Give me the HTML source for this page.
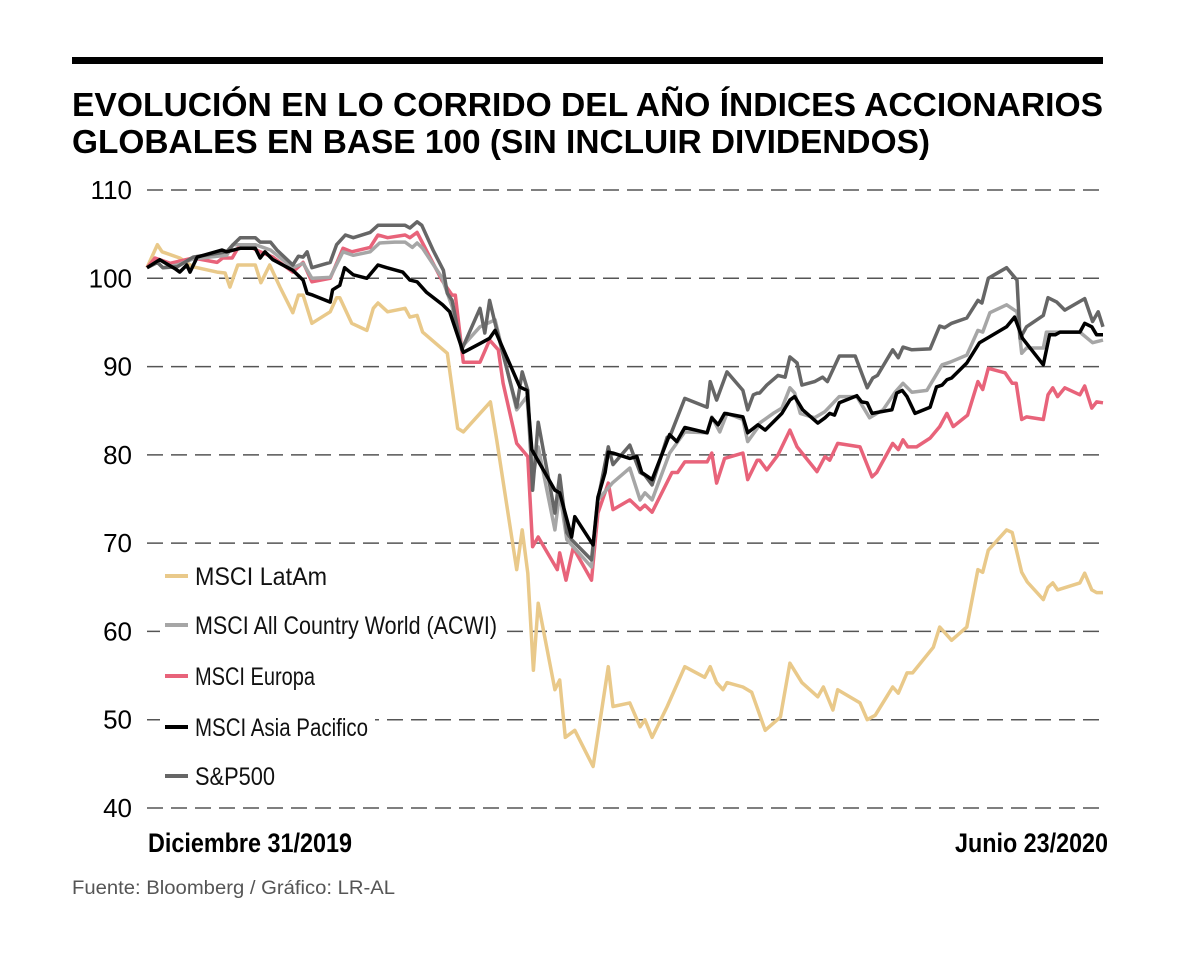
<!DOCTYPE html>
<html><head><meta charset="utf-8"><style>
html,body{margin:0;padding:0;background:#fff;}
svg{display:block;}
</style></head><body>
<svg id="chart" width="1200" height="958" viewBox="0 0 1200 958" xmlns="http://www.w3.org/2000/svg" font-family="'Liberation Sans', sans-serif">
<rect x="0" y="0" width="1200" height="958" fill="#fff"/>
<rect x="72" y="57" width="1031" height="7" fill="#000"/>
<text x="72" y="116" font-size="33" font-weight="bold" textLength="1031" lengthAdjust="spacingAndGlyphs">EVOLUCIÓN EN LO CORRIDO DEL AÑO ÍNDICES ACCIONARIOS</text>
<text x="72" y="153" font-size="33" font-weight="bold" textLength="858" lengthAdjust="spacingAndGlyphs">GLOBALES EN BASE 100 (SIN INCLUIR DIVIDENDOS)</text>
<g id="grid"></g>
<g id="ylabels"></g>
<g id="series"></g>
<g id="legend"></g>
<text x="148" y="852" font-size="27" font-weight="bold" textLength="204" lengthAdjust="spacingAndGlyphs">Diciembre 31/2019</text>
<text x="955" y="852" font-size="27" font-weight="bold" textLength="153" lengthAdjust="spacingAndGlyphs">Junio 23/2020</text>
<text x="72" y="894" font-size="19" fill="#555" textLength="323" lengthAdjust="spacingAndGlyphs">Fuente: Bloomberg / Gráfico: LR-AL</text>
</svg>
<script>
const yTicks = [110,100,90,80,70,60,50,40];
const seriesNames = ["MSCI LatAm","MSCI All Country World (ACWI)","MSCI Europa","MSCI Asia Pacifico","S&P500"];
const seriesColors = ["#e9c98a","#a6a6a6","#e8637a","#000000","#666666"];

const latamDays = [0,1.3,1.9,4.1,5.8,8.8,9.8,10.4,11.4,13.6,14.3,15.4,16.7,18.3,19.0,19.6,20.7,23.0,23.8,24.2,25.7,27.6,28.4,29.0,30.2,32.4,33.0,33.9,34.6,37.7,39.0,39.7,43.1,43.9,46.4,47.1,47.8,48.5,49.1,51.2,51.8,52.5,53.7,56.0,57.9,58.5,60.6,61.9,62.5,63.4,65.3,67.5,70.0,70.7,71.5,72.3,72.8,74.8,75.9,77.6,79.5,80.7,82.2,84.2,84.9,86.1,86.7,89.5,90.4,91.4,93.6,94.3,95.4,96.1,98.7,99.5,101.0,102.9,104.3,104.9,105.6,107.9,108.6,109.8,110.5,112.5,113.1,113.7,114.3,117.1,117.7,118.6,119.2,120];
const latamVals = [101.2,103.8,103.0,102.3,101.3,100.7,100.6,99.0,101.5,101.5,99.5,101.5,99.0,96.1,98.1,98.1,94.9,96.2,97.8,97.8,94.9,94.1,96.6,97.2,96.2,96.6,95.6,95.8,93.9,91.5,83.0,82.6,86.0,81.7,67.0,71.5,66.6,55.6,63.2,53.4,54.5,48.0,48.8,44.7,56.0,51.5,51.9,49.2,50.0,48.0,51.5,56.0,54.8,56.0,54.2,53.4,54.2,53.7,53.1,48.8,50.3,56.4,54.2,52.6,53.7,51.1,53.4,51.9,50.0,50.5,53.7,53.0,55.3,55.3,58.2,60.5,59.0,60.5,67.0,66.7,69.2,71.5,71.2,66.7,65.6,63.6,65.0,65.5,64.7,65.5,66.6,64.7,64.4,64.4];

const acwiDays = [0,1.3,2.0,3.8,5.8,10.0,10.8,13.6,15.5,18.3,19.6,20.7,23.0,24.6,25.9,28.0,29.2,31.1,32.4,33.3,33.9,34.6,37.0,38.3,39.5,41.8,43.7,46.4,47.7,48.4,49.1,51.2,51.8,52.7,55.8,56.6,58.4,60.6,61.9,62.5,63.4,65.6,67.5,70.3,70.9,71.9,72.8,74.8,75.4,76.6,76.9,78.6,79.7,80.7,81.3,82.0,83.8,85.1,86.9,89.1,90.7,92.4,93.9,94.9,96.0,97.9,99.8,100.8,102.9,104.3,104.9,105.8,107.9,109.2,109.8,110.4,112.5,112.9,117.1,118.7,120];
const acwiVals = [101.2,101.8,101.2,101.5,102.2,102.6,103.8,103.8,103.2,101.2,101.7,100.0,100.1,103.0,102.6,103.0,104.0,104.1,104.1,103.5,104.0,103.4,100.1,96.8,92.2,94.5,95.3,85.1,86.6,77.2,80.9,71.5,75.7,70.4,67.3,74.9,76.8,78.5,74.9,75.7,74.9,80.2,82.6,82.5,84.3,82.6,84.7,84.0,81.5,83.0,83.6,84.7,85.3,87.6,87.0,84.7,84.2,84.9,86.6,86.6,84.2,85.1,87.1,88.1,87.1,87.3,90.2,90.5,91.3,94.1,93.9,96.1,97.0,96.2,91.5,92.1,92.1,93.9,93.9,92.7,93.0];

const europaDays = [0,1.0,2.9,5.8,8.8,9.5,10.7,11.4,13.3,14.2,15.8,18.3,19.6,20.7,23.0,24.6,25.7,28.0,29.0,30.2,32.4,33.0,33.9,37.0,38.3,38.7,39.7,41.8,43.0,44.1,44.7,46.4,47.8,48.4,49.1,51.5,51.8,52.6,53.5,55.8,56.6,57.9,58.5,60.6,61.9,62.5,63.4,65.9,66.6,67.5,70.3,70.9,71.5,72.5,74.8,75.4,76.6,76.9,77.8,79.2,80.7,81.6,84.1,85.1,85.7,86.7,89.5,91.0,91.6,93.6,94.3,94.9,95.5,96.6,98.3,99.5,100.4,101.2,103.0,104.3,104.9,105.6,107.7,108.6,109.1,109.8,110.4,112.5,113.1,113.7,114.3,115.2,117.1,117.7,118.6,119.2,120];
const europaVals = [101.2,102.3,101.7,102.3,101.8,102.3,102.3,103.4,103.4,103.0,102.4,100.7,101.8,99.6,100.0,103.4,103.0,103.5,104.9,104.6,104.9,104.6,105.2,99.8,98.1,98.1,90.5,90.5,93.0,91.9,88.1,81.3,79.8,69.6,70.7,67.0,68.9,65.8,69.5,65.8,73.4,76.8,73.8,74.9,73.8,74.3,73.5,78.0,78.0,79.2,79.2,80.2,76.8,79.6,80.2,77.2,79.4,79.4,78.3,80.0,82.8,80.9,78.1,79.8,79.4,81.3,80.9,77.5,78.0,81.3,80.6,81.7,80.9,80.9,81.9,83.2,84.7,83.2,84.5,88.3,87.4,89.8,89.3,88.1,88.1,84.0,84.3,84.0,86.8,87.6,86.6,87.6,86.8,87.8,85.3,86.0,85.9];

const asiaDays = [0,1.6,3.5,4.1,5.0,5.4,6.3,9.4,10.0,11.7,13.6,14.2,14.8,15.8,18.3,19.6,20.1,20.8,23.0,23.3,24.2,24.8,25.9,27.6,29.0,30.1,32.1,33.0,33.9,35.1,37.1,38.0,39.7,42.0,43.0,43.7,46.8,47.7,48.3,51.2,51.8,53.3,53.7,56.0,56.6,57.5,57.9,58.5,60.6,61.5,62.1,63.4,65.6,66.5,67.5,70.3,70.9,71.7,72.5,74.8,75.4,76.7,77.6,79.7,80.7,81.3,82.3,84.2,85.1,85.7,86.3,86.9,89.1,89.7,90.4,91.0,93.5,94.1,94.8,95.4,96.4,98.3,99.1,99.8,100.4,101.0,102.9,104.5,107.9,108.9,109.9,112.5,113.3,114.0,114.6,117.1,117.7,118.6,119.2,120];
const asiaVals = [101.2,102.1,101.1,100.7,101.5,100.7,102.4,103.2,103.0,103.4,103.4,102.3,103.0,102.1,100.9,99.8,98.3,98.1,97.3,98.7,99.2,101.2,100.4,100.0,101.5,101.2,100.7,99.8,99.6,98.4,97.0,96.2,91.6,92.7,93.2,94.1,87.7,87.3,80.6,76.0,75.7,70.7,73.0,69.8,75.2,78.0,80.3,80.2,79.6,79.8,78.0,77.2,82.3,81.5,83.1,82.5,84.2,83.4,84.7,84.3,82.5,83.4,82.8,84.7,86.2,86.6,85.1,83.6,84.2,84.7,84.5,85.9,86.7,86.0,85.9,84.7,85.1,87.0,87.3,86.6,84.7,85.4,87.7,87.9,88.5,88.7,90.4,92.7,94.5,95.6,93.2,90.2,93.6,93.6,93.9,93.9,94.9,94.5,93.6,93.6];

const spDays = [0,1.3,2.0,3.8,5.8,10.0,10.8,11.7,13.6,14.2,15.5,16.3,18.3,19.0,19.6,20.1,20.7,23.0,23.8,24.9,25.9,28.0,29.0,32.4,33.0,33.9,34.5,35.9,37.2,37.7,38.3,39.5,41.8,42.4,43.0,43.7,46.4,47.1,47.8,48.4,49.1,51.2,51.8,52.7,53.3,55.8,56.6,57.9,58.5,60.6,61.9,62.5,63.4,65.3,65.6,67.5,70.3,70.7,71.5,72.8,74.8,75.4,76.1,76.6,76.9,77.8,79.2,80.1,80.7,81.6,82.2,83.8,84.8,85.4,86.9,88.9,90.4,91.1,91.7,93.6,94.3,94.9,96.0,98.3,99.5,100.1,101.0,102.9,104.3,104.8,105.6,107.9,109.2,109.6,110.4,112.5,113.1,114.2,115.2,117.7,118.7,119.4,120];
const spVals = [101.2,101.8,101.2,101.3,102.4,103.0,103.8,104.6,104.6,104.1,104.1,103.2,101.5,102.5,102.4,103.0,101.2,101.8,103.8,104.9,104.6,105.2,106.0,106.0,105.7,106.4,106.0,103.2,100.9,98.3,97.5,91.9,96.6,93.8,97.5,94.9,85.4,89.4,87.3,76.0,83.7,73.4,77.7,71.2,70.4,68.1,74.9,80.9,78.9,81.1,78.0,77.7,76.6,82.0,82.0,86.4,85.4,88.3,86.2,89.4,87.3,85.1,86.8,87.0,87.0,87.9,89.0,88.8,91.1,90.4,87.9,88.3,88.8,88.3,91.2,91.2,87.6,88.7,89.0,91.9,91.0,92.2,91.9,92.0,94.6,94.4,94.9,95.5,97.5,97.2,100.0,101.2,99.8,93.2,94.5,95.8,97.8,97.3,96.4,97.7,95.1,96.2,94.5];

const NS = "http://www.w3.org/2000/svg";
const X0 = 147, X1 = 1103, DAY_MAX = 120;
const Y_TOP = 190, Y_BOT = 808, V_TOP = 110, V_BOT = 40;
function xScale(d){ return X0 + (d / DAY_MAX) * (X1 - X0); }
function yScale(v){ return Y_TOP + (V_TOP - v) / (V_TOP - V_BOT) * (Y_BOT - Y_TOP); }

const grid = document.getElementById('grid');
const ylabels = document.getElementById('ylabels');
yTicks.forEach(t => {
  const ln = document.createElementNS(NS, 'line');
  ln.setAttribute('x1', X0); ln.setAttribute('x2', X1);
  ln.setAttribute('y1', yScale(t)); ln.setAttribute('y2', yScale(t));
  ln.setAttribute('stroke', '#555'); ln.setAttribute('stroke-width', '1.5');
  ln.setAttribute('stroke-dasharray', '16 8');
  
  
  grid.appendChild(ln);
  const tx = document.createElementNS(NS, 'text');
  tx.setAttribute('x', 132); tx.setAttribute('y', yScale(t) + 9);
  tx.setAttribute('text-anchor', 'end'); tx.setAttribute('font-size', '26');
  tx.textContent = t;
  
  
  ylabels.appendChild(tx);
});

const seriesG = document.getElementById('series');
const allDays = [latamDays, acwiDays, europaDays, asiaDays, spDays];
const allVals = [latamVals, acwiVals, europaVals, asiaVals, spVals];
const seriesKeys = ['latam','acwi','europa','asia-pacifico','sp500'];
const drawOrder = [0, 2, 1, 4, 3];
drawOrder.forEach(i => {
  const pts = allDays[i].map((d, k) => xScale(d).toFixed(1) + ',' + yScale(allVals[i][k]).toFixed(1)).join(' ');
  const pl = document.createElementNS(NS, 'polyline');
  pl.setAttribute('points', pts);
  pl.setAttribute('fill', 'none');
  pl.setAttribute('stroke', seriesColors[i]);
  pl.setAttribute('stroke-width', '3.5');
  pl.setAttribute('stroke-linejoin', 'round');
  
  
  seriesG.appendChild(pl);
});

const legend = document.getElementById('legend');
const legendY = [576, 625, 676, 727, 776];
const legendW = [132, 302, 120, 173, 80];
seriesNames.forEach((n, i) => {
  const g = document.createElementNS(NS, 'g');
  
  
  const bg = document.createElementNS(NS, 'rect');
  bg.setAttribute('x', 160); bg.setAttribute('y', legendY[i] - 16);
  bg.setAttribute('width', legendW[i] + 42); bg.setAttribute('height', 32);
  bg.setAttribute('fill', '#fff');
  
  
  g.appendChild(bg);
  const ln = document.createElementNS(NS, 'line');
  ln.setAttribute('x1', 165); ln.setAttribute('x2', 188);
  ln.setAttribute('y1', legendY[i]); ln.setAttribute('y2', legendY[i]);
  ln.setAttribute('stroke', seriesColors[i]); ln.setAttribute('stroke-width', '4');
  
  
  g.appendChild(ln);
  const tx = document.createElementNS(NS, 'text');
  tx.setAttribute('x', 195); tx.setAttribute('y', legendY[i] + 9);
  tx.setAttribute('font-size', '25'); tx.setAttribute('fill', '#111');
  tx.setAttribute('textLength', legendW[i]); tx.setAttribute('lengthAdjust', 'spacingAndGlyphs');
  tx.textContent = n;
  
  
  g.appendChild(tx);
  legend.appendChild(g);
});
</script>
</body></html>
